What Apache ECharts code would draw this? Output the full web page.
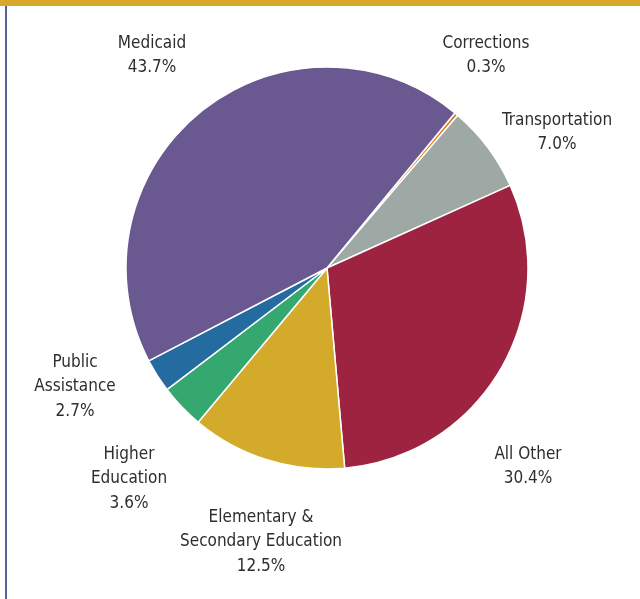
<!DOCTYPE html>
<html>
<head>
<meta charset="utf-8">
<script src="https://cdn.jsdelivr.net/npm/echarts@6/dist/echarts.min.js"></script>
<style>
  html, body { margin: 0; padding: 0; background: #fff; }
  #frame { position: relative; width: 640px; height: 599px; }
  #topbar { position: absolute; left: 0; top: 0; width: 640px; height: 6px; background: #d6a92a; }
  #leftline { position: absolute; left: 5px; top: 6px; width: 2px; height: 593px; background: #5b5f97; }
  #chart { position: absolute; left: 0; top: 0; width: 640px; height: 599px; }
</style>
</head>
<body>
<div id="frame">
  <div id="chart"></div>
  <div id="topbar"></div>
  <div id="leftline"></div>
</div>
<script>
// categories, clockwise from the Medicaid/Corrections boundary
var categories = ['Corrections', 'Transportation', 'All Other', 'Elementary &\nSecondary Education',
  'Higher\nEducation', 'Public\nAssistance', 'Medicaid']
var shares = [0.3, 7.0, 30.4, 12.5, 3.6, 2.7, 43.7]
var colors = ['#e07b22', '#9ea9a6', '#9e2340', '#d4aa2a', '#34a86f', '#246b9f', '#6a5891']

// label anchor points (centre of each label block)
var labelPos = [[486, 55.5], [557, 132.5], [528, 466.5], [261, 542], [129, 479], [75, 387], [152, 55.5]]

var chart = echarts.init(document.getElementById('chart'))
chart.setOption({
  animation: false,
  series: [
    {
      type: 'pie',
      center: [327, 268],
      radius: [0, 201],
      startAngle: 50.5,
      clockwise: true,
      data: categories.map(function (c, i) {
        return { name: c, value: shares[i], itemStyle: { color: colors[i] } }
      }),
      itemStyle: { borderColor: '#fff', borderWidth: 1.5 },
      label: {
        show: true,
        position: 'outside',
        fontFamily: 'DejaVu Sans Condensed, sans-serif',
        fontSize: 17,
        lineHeight: 24.5,
        color: '#2e2e2e',
        align: 'center',
        overflow: 'none',
        formatter: function (p) {
          return p.name + '\n' + p.value.toFixed(1) + '%'
        }
      },
      labelLine: { show: false },
      labelLayout: function (params) {
        var pos = labelPos[params.dataIndex]
        return { x: pos[0], y: pos[1], align: 'center', verticalAlign: 'middle' }
      }
    }
  ]
})
</script>
</body>
</html>
